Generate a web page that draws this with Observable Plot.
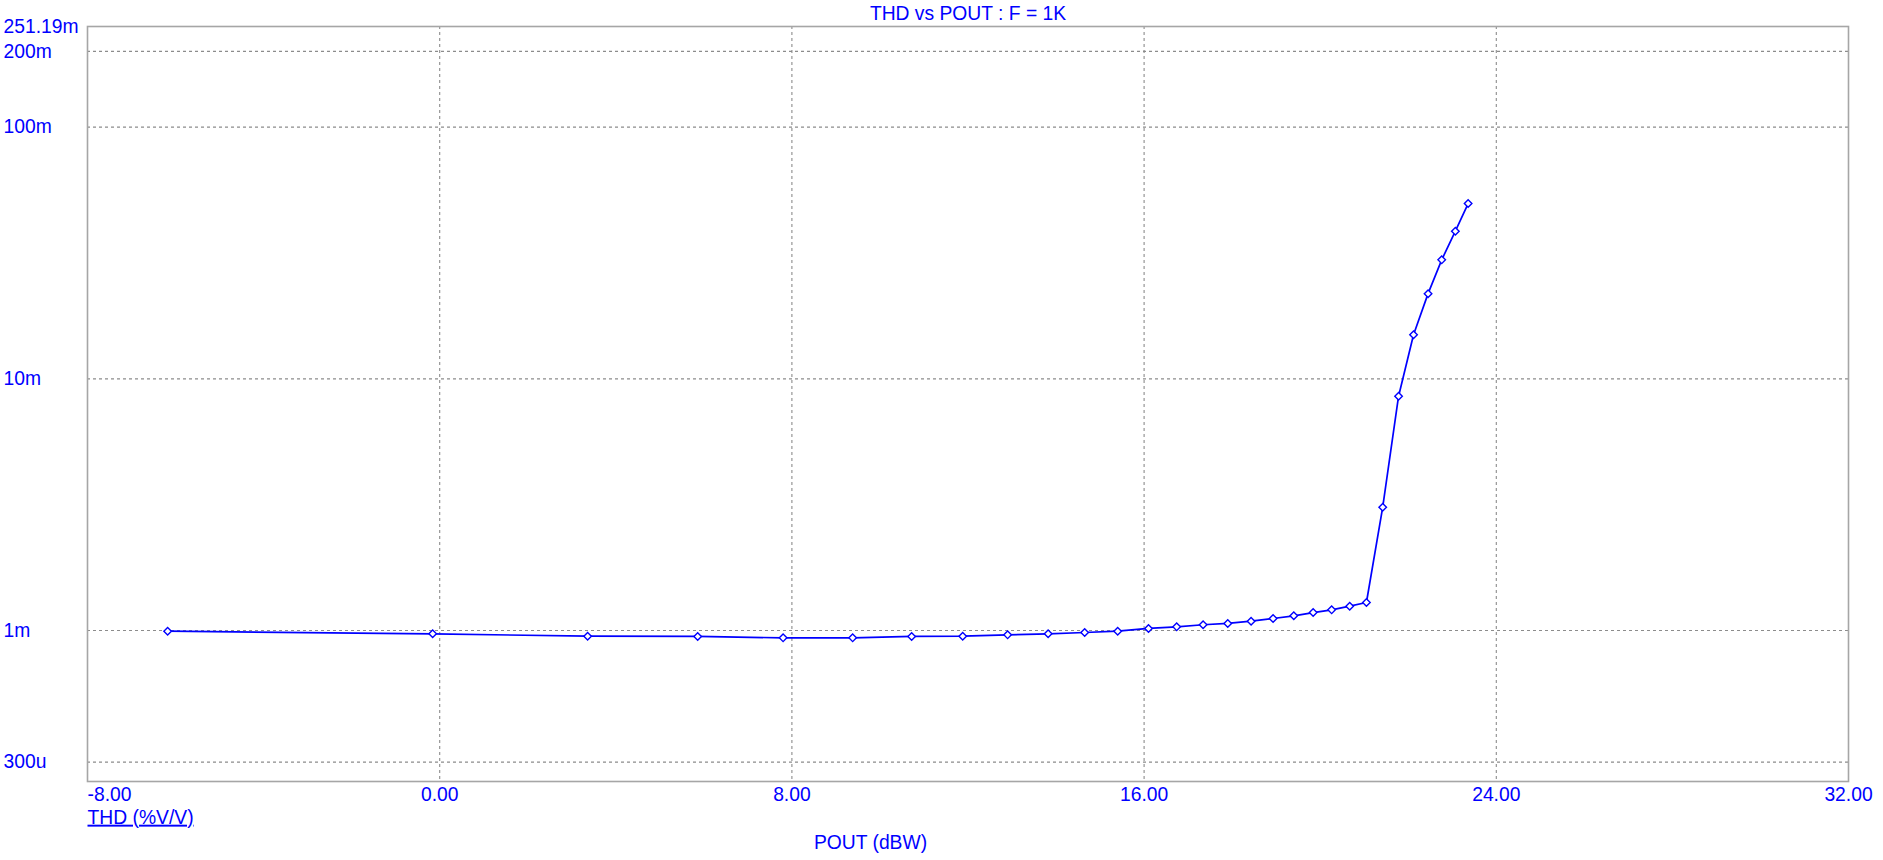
<!DOCTYPE html>
<html>
<head>
<meta charset="utf-8">
<script src="https://cdn.jsdelivr.net/npm/d3@7"></script>
<script src="https://cdn.jsdelivr.net/npm/@observablehq/plot@0.6"></script>
<style>
  html, body { margin: 0; padding: 0; background: #fff; }
  #chart svg { display: block; }
</style>
</head>
<body>
<div id="chart"></div>
<script>
// Output power (dBW)
const pout = [-6.18, -0.16, 3.36, 5.86, 7.80, 9.38, 10.72, 11.88, 12.90, 13.82,
  14.65, 15.40, 16.10, 16.74, 17.34, 17.90, 18.43, 18.93, 19.40, 19.84,
  20.26, 20.67, 21.05, 21.42, 21.78, 22.12, 22.45, 22.76, 23.07, 23.36];
// THD (%V/V)
const thd = [0.994e-3, 0.970e-3, 0.949e-3, 0.947e-3, 0.935e-3, 0.935e-3, 0.947e-3, 0.949e-3, 0.961e-3, 0.970e-3,
  0.982e-3, 0.994e-3, 1.019e-3, 1.034e-3, 1.054e-3, 1.067e-3, 1.089e-3, 1.116e-3, 1.144e-3, 1.178e-3,
  1.208e-3, 1.249e-3, 1.292e-3, 3.09e-3, 8.53e-3, 14.96e-3, 21.8e-3, 29.7e-3, 38.6e-3, 49.7e-3];

const xTicks = [-8, 0, 8, 16, 24, 32];
const xTickLabels = ["-8.00", "0.00", "8.00", "16.00", "24.00", "32.00"];
const xGrid = [0, 8, 16, 24];
const yTicks = [0.25119, 0.2, 0.1, 0.01, 0.001, 0.0003];
const yTickLabels = ["251.19m", "200m", "100m", "10m", "1m", "300u"];
const yGrid = [0.2, 0.1, 0.01, 0.001, 0.0003];
const yDomain = [0.00025119, 0.25119];
const xDomain = [-8, 32];

const title = "THD vs POUT : F = 1K";
const xLabel = "POUT (dBW)";
const yLabel = "THD (%V/V)";

const data = pout.map((p, i) => ({p, t: thd[i]}));
const blue = "#0000ff";
const fs = 19.3;
const W = 1883, H = 860;
const mL = 87, mR = 35, mT = 26, mB = 79;

const plot = Plot.plot({
  width: W, height: H,
  marginLeft: mL, marginRight: mR, marginTop: mT, marginBottom: mB,
  style: {fontFamily: "'Liberation Sans', Arial, sans-serif", background: "#fff", overflow: "visible"},
  x: {domain: xDomain, axis: null},
  y: {type: "log", domain: yDomain, axis: null},
  marks: [
    Plot.ruleY(yGrid, {y: d => d, stroke: "#8c8c8c", strokeWidth: 1.1, strokeDasharray: "3,3"}),
    Plot.ruleX(xGrid, {x: d => d, stroke: "#8c8c8c", strokeWidth: 1.1, strokeDasharray: "3,3"}),
    Plot.frame({stroke: "#a6a6a6", strokeWidth: 1.6}),
    Plot.line(data, {x: "p", y: "t", stroke: blue, strokeWidth: 1.7}),
    Plot.dot(data, {x: "p", y: "t", symbol: d3.symbolDiamond2 || "diamond", r: 3.4, fill: "#fff", stroke: blue, strokeWidth: 1.4}),
    // y tick labels (left aligned at page edge)
    Plot.text(yTicks, {y: d => d, text: (d, i) => yTickLabels[i], frameAnchor: "left", dx: -(mL - 3), textAnchor: "start", lineAnchor: "middle", fill: blue, fontSize: fs}),
    // x tick labels
    Plot.text(xTicks.slice(0, 1), {x: d => d, text: (d, i) => xTickLabels[i], frameAnchor: "bottom", dy: 13, textAnchor: "start", lineAnchor: "middle", fill: blue, fontSize: fs}),
    Plot.text(xTicks.slice(1), {x: d => d, text: (d, i) => xTickLabels[i + 1], frameAnchor: "bottom", dy: 13, textAnchor: "middle", lineAnchor: "middle", fill: blue, fontSize: fs}),
    // title
    Plot.text([title], {frameAnchor: "top", dy: -13, text: d => d, lineAnchor: "middle", fill: blue, fontSize: fs}),
    // x label
    Plot.text([xLabel], {frameAnchor: "bottom", dx: 870 - (mL + (W - mL - mR) / 2), dy: 61, text: d => d, lineAnchor: "middle", fill: blue, fontSize: fs}),
    // y label (underlined)
    Plot.text([yLabel], {frameAnchor: "bottom-left", dy: 36, textAnchor: "start", lineAnchor: "middle", text: d => d, fill: blue, fontSize: fs})
  ]
});

d3.select(plot).selectAll("text").filter(function() { return this.textContent === yLabel; })
  .attr("text-decoration", "underline").style("text-decoration", "underline");

document.getElementById("chart").appendChild(plot);
</script>
</body>
</html>
